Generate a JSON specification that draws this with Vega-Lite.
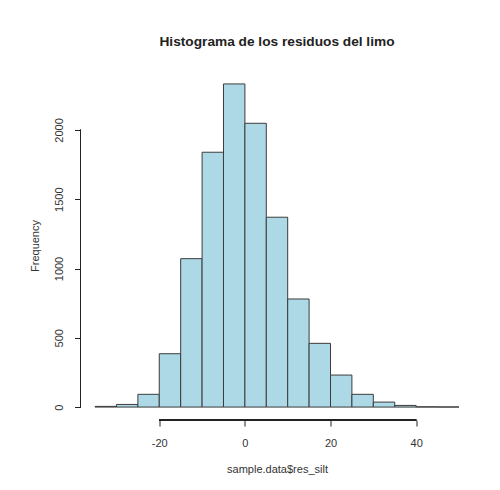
{
  "$schema": "https://vega.github.io/schema/vega-lite/v6.json",
  "width": 393,
  "height": 349,
  "autosize": {"type": "none"},
  "padding": {"left": 80.5, "top": 71, "right": 26.5, "bottom": 70},
  "background": "white",
  "config": {"view": {"stroke": null}},
  "title": {
    "text": "Histograma de los residuos del limo",
    "font": "Liberation Sans",
    "fontSize": 13.7,
    "fontWeight": "bold",
    "color": "#222222",
    "anchor": "middle",
    "baseline": "alphabetic",
    "offset": 11.5
  },
  "data": {
    "values": [
      {"bin_start": -35, "bin_end": -30, "count": 5},
      {"bin_start": -30, "bin_end": -25, "count": 19},
      {"bin_start": -25, "bin_end": -20, "count": 92},
      {"bin_start": -20, "bin_end": -15, "count": 385},
      {"bin_start": -15, "bin_end": -10, "count": 1071},
      {"bin_start": -10, "bin_end": -5, "count": 1839},
      {"bin_start": -5, "bin_end": 0, "count": 2332},
      {"bin_start": 0, "bin_end": 5, "count": 2048},
      {"bin_start": 5, "bin_end": 10, "count": 1370},
      {"bin_start": 10, "bin_end": 15, "count": 780},
      {"bin_start": 15, "bin_end": 20, "count": 460},
      {"bin_start": 20, "bin_end": 25, "count": 231},
      {"bin_start": 25, "bin_end": 30, "count": 92},
      {"bin_start": 30, "bin_end": 35, "count": 36},
      {"bin_start": 35, "bin_end": 40, "count": 12},
      {"bin_start": 40, "bin_end": 45, "count": 2},
      {"bin_start": 45, "bin_end": 50, "count": 1}
    ]
  },
  "layer": [
    {
      "mark": {"type": "bar", "fill": "#ADD8E6", "stroke": "#3c3c3c", "strokeWidth": 1},
      "encoding": {
        "x": {
          "field": "bin_start",
          "type": "quantitative",
          "scale": {"domain": [-38.4, 53.4], "nice": false, "zero": false},
          "axis": {
            "title": "sample.data$res_silt",
            "values": [-20, 0, 20, 40],
            "labelExpr": "'' + datum.value",
            "domain": false,
            "grid": false,
            "tickSize": 6,
            "tickColor": "#222222",
            "labelFont": "Liberation Sans",
            "labelFontSize": 11,
            "labelColor": "#333333",
            "labelPadding": 11,
            "labelFlush": false,
            "titleFont": "Liberation Sans",
            "titleFontSize": 11,
            "titleFontWeight": "normal",
            "titleColor": "#333333",
            "titleBaseline": "alphabetic",
            "titleY": 52
          }
        },
        "x2": {"field": "bin_end"},
        "y": {
          "field": "count",
          "type": "quantitative",
          "scale": {"domain": [-93.3, 2425.3], "nice": false, "zero": false},
          "axis": {
            "title": "Frequency",
            "values": [0, 500, 1000, 1500, 2000],
            "labelExpr": "'' + datum.value",
            "domain": false,
            "grid": false,
            "tickSize": 6,
            "tickColor": "#222222",
            "labelFont": "Liberation Sans",
            "labelFontSize": 11,
            "labelColor": "#333333",
            "labelAngle": -90,
            "labelAlign": "center",
            "labelBaseline": "alphabetic",
            "labelPadding": 12.5,
            "labelFlush": false,
            "titleFont": "Liberation Sans",
            "titleFontSize": 11,
            "titleFontWeight": "normal",
            "titleColor": "#333333",
            "titleAngle": -90,
            "titleBaseline": "alphabetic",
            "titleX": -42,
            "titleY": 174.5
          }
        },
        "y2": {"datum": 0}
      }
    },
    {
      "mark": {"type": "rule", "color": "#222222", "strokeWidth": 1},
      "encoding": {
        "x": {"datum": -20},
        "x2": {"datum": 40},
        "y": {"datum": -93.3}
      }
    },
    {
      "mark": {"type": "rule", "color": "#222222", "strokeWidth": 1},
      "encoding": {
        "x": {"datum": -38.4},
        "y": {"datum": 0},
        "y2": {"datum": 2000}
      }
    }
  ]
}
